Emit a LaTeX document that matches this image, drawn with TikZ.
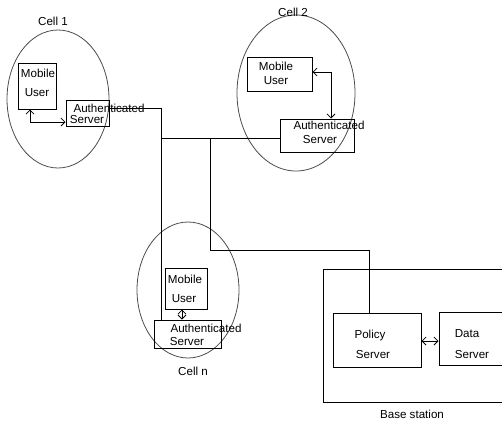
\documentclass[tikz,border=0pt]{standalone}
\usepackage{fontspec}
\setmainfont{Liberation Sans}
\usetikzlibrary{arrows.meta,shapes.geometric,fit}
\begin{document}
\begin{tikzpicture}[x=0.75pt,y=-0.75pt,
  font=\fontsize{8.7}{10}\selectfont,
  box/.style={draw, line width=0.75pt, inner sep=0pt},
  cellring/.style={draw=black!70, line width=0.6pt, ellipse, inner sep=0pt},
  link/.style={line width=0.75pt},
  dual/.style={line width=0.6pt, {Straight Barb[length=3pt,width=6pt]}-{Straight Barb[length=3pt,width=6pt]}},
  txt/.style={anchor=base, inner sep=0pt}]
\useasboundingbox (0,0) rectangle (502,422);
\clip (0,0) rectangle (502,422);

% cells
\node[cellring, minimum width=76.5pt, minimum height=103.5pt] (c1) at (58,99) {};
\node[cellring, minimum width=88.5pt, minimum height=117pt] (c2) at (296,93) {};
\node[cellring, minimum width=76.5pt, minimum height=102pt] (cn) at (188,290) {};

% boxes
\node[box, fit={(18,63) (56,109)}] (mu1) {};
\node[box, fit={(66,100) (109,126)}] (as1) {};
\node[box, fit={(247,57) (312,91)}] (mu2) {};
\node[box, fit={(280,119) (354,152)}] (as2) {};
\node[box, fit={(165,268) (207,309)}] (mun) {};
\node[box, fit={(154,320) (221,348)}] (asn) {};
\node[box, fit={(333,313) (421,367)}] (ps) {};
\node[box, fit={(439,312) (510,365)}] (ds) {};
\draw[link] (510,269) -- (323,269) -- (323,402) -- (510,402);
\coordinate (bs) at (323,269);

% texts
\node[txt] (t1) at (53,25) {Cell 1};
\node[txt] (t2) at (293,16) {Cell 2};
\node[txt] (t3) at (193,375) {Cell n};
\node[txt] (t4) at (412,418) {Base station};

\node[txt] (m1a) at (38,77) {Mobile};
\node[txt] (m1b) at (37,96) {User};
\node[txt] (a1a) at (109,112) {Authenticated};
\node[txt] (a1b) at (87,123) {Server};

\node[txt] (m2a) at (276,70) {Mobile};
\node[txt] (m2b) at (276,84) {User};
\node[txt] (a2a) at (329,129) {Authenticated};
\node[txt] (a2b) at (320,143) {Server};

\node[txt] (mna) at (185,283) {Mobile};
\node[txt] (mnb) at (184,302) {User};
\node[txt] (ana) at (206,332) {Authenticated};
\node[txt] (anb) at (187,345) {Server};

\node[txt] (p1) at (370,338) {Policy};
\node[txt] (p2) at (373,358) {Server};
\node[txt] (d1) at (467,337) {Data};
\node[txt] (d2) at (472,358) {Server};

% connectors
\coordinate (j1) at (161,108);
\coordinate (j2) at (161,138);
\coordinate (j3) at (210,138);
\coordinate (j4) at (210,250);
\coordinate (j5) at (369,250);
\draw[link] (as1.east |- j1) -- (j1) -- (j1 |- asn.north);
\draw[link] (j2) -- (j2 -| as2.west);
\draw[link] (j3) -- (j4) -- (j5) -- (j5 |- ps.north);

\coordinate (k1) at (30,122);
\draw[dual] (k1 |- mu1.south) -- (k1) -- (k1 -| as1.west);
\coordinate (k2) at (331,72);
\draw[dual] (k2 -| mu2.east) -- (k2) -- (k2 |- as2.north);
\coordinate (k3) at (182,314);
\draw[dual] (k3 |- mun.south) -- (k3 |- asn.north);
\coordinate (k4) at (430,341);
\draw[dual] (k4 -| ps.east) -- (k4 -| ds.west);
\end{tikzpicture}
\end{document}
